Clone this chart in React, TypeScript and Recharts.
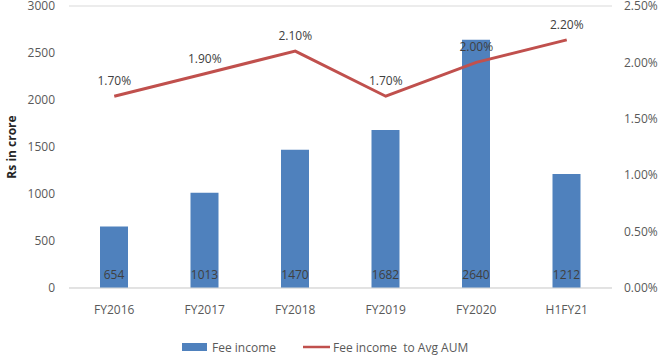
import React from "react";
import { ComposedChart, Bar, Line, XAxis, YAxis, CartesianGrid, LabelList, Legend } from "recharts";

const categories = ["FY2016", "FY2017", "FY2018", "FY2019", "FY2020", "H1FY21"];
const feeIncome = [654, 1013, 1470, 1682, 2640, 1212];
const feeToAum = [1.7, 1.9, 2.1, 1.7, 2.0, 2.2];
const leftTicks = [0, 500, 1000, 1500, 2000, 2500, 3000];
const rightTicks = [0, 0.5, 1, 1.5, 2, 2.5];

const data = categories.map((c, i) => ({ name: c, fee: feeIncome[i], ratio: feeToAum[i] }));

const FONT = "'Open Sans', sans-serif";
const TXT = "#595959";

const LegendContent = () => (
  <svg width={662} height={20} style={{ display: "block" }}>
    <rect x={182} y={6} width={25} height={8} fill="#4F81BD" />
    <text x={212} y={14.5} fontSize={12} fill={TXT} fontFamily={FONT}>Fee income</text>
    <line x1={303} x2={330} y1={10} y2={10} stroke="#C0504D" strokeWidth={2.5} />
    <text x={333} y={14.5} fontSize={12} fill={TXT} fontFamily={FONT}>{"Fee income\u00A0 to Avg AUM"}</text>
  </svg>
);

export default function App() {
  return (
    <div style={{ position: "absolute", left: 0, top: 0, width: 662, height: 356, background: "#fff" }}>
      <ComposedChart
        width={662}
        height={356}
        data={data}
        margin={{ top: 6, right: 0, left: 0, bottom: 8 }}
        style={{ fontFamily: FONT }}
      >
        <CartesianGrid vertical={false} stroke="#D9D9D9" strokeWidth={1} />
        <XAxis
          dataKey="name"
          height={40}
          tickLine={false}
          tickSize={0}
          tickMargin={17}
          axisLine={{ stroke: "#D9D9D9" }}
          tick={{ fontSize: 12, fill: TXT, fontFamily: FONT }}
        />
        <YAxis
          yAxisId="left"
          orientation="left"
          width={69}
          domain={[0, 3000]}
          ticks={leftTicks}
          interval={0}
          tickLine={false}
          tickSize={0}
          tickMargin={14}
          axisLine={false}
          tick={{ fontSize: 12, fill: TXT, fontFamily: FONT }}
          label={{
            value: "Rs in crore",
            angle: -90,
            position: "insideLeft",
            offset: 12,
            style: { fontSize: 12, fontWeight: "bold", fill: "#262626", fontFamily: FONT, textAnchor: "middle" },
          }}
        />
        <YAxis
          yAxisId="right"
          orientation="right"
          width={50}
          domain={[0, 2.5]}
          ticks={rightTicks}
          interval={0}
          tickLine={false}
          tickSize={0}
          tickMargin={12}
          axisLine={false}
          tickFormatter={(v: number) => v.toFixed(2) + "%"}
          tick={{ fontSize: 12, fill: TXT, fontFamily: FONT, textAnchor: "start" }}
        />
        <Legend verticalAlign="bottom" align="left" wrapperStyle={{ left: 0, top: 337, width: 662 }} content={<LegendContent />} />
        <Bar yAxisId="left" dataKey="fee" fill="#4F81BD" barSize={28} isAnimationActive={false}>
          <LabelList dataKey="fee" position="insideBottom" offset={9} style={{ fontSize: 12, fill: "#404040", fontFamily: FONT }} />
        </Bar>
        <Line
          yAxisId="right"
          dataKey="ratio"
          stroke="#C0504D"
          strokeWidth={3}
          dot={false}
          activeDot={false}
          isAnimationActive={false}
        >
          <LabelList
            dataKey="ratio"
            position="top"
            offset={11}
            formatter={(v: number) => v.toFixed(2) + "%"}
            style={{ fontSize: 12, fill: "#404040", fontFamily: FONT }}
          />
        </Line>
      </ComposedChart>
    </div>
  );
}
